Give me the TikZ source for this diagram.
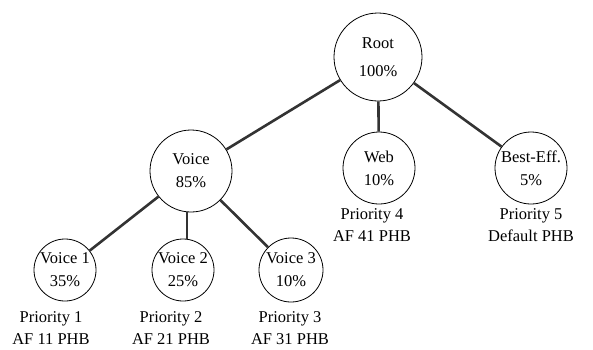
\documentclass[tikz,border=0pt]{standalone}
\usepackage{fontspec}
\setmainfont{Liberation Serif}
\begin{document}
\begin{tikzpicture}[x=1pt,y=-1pt,
  cls/.style={circle,draw=black,line width=0.8pt,inner sep=0pt,align=center,
    font=\fontsize{16.5}{23}\selectfont},
  lbl/.style={align=center,inner sep=0pt,font=\fontsize{16.5}{22}\selectfont},
  edge/.style={draw=black!80,line width=2.6pt}]
\useasboundingbox (0,0) rectangle (593,349);
% class tree
\node[cls,minimum size=88pt,font=\fontsize{16.5}{28}\selectfont] (root) at (378,57) {Root\\100\%};
\node[cls,minimum size=82pt] (voice) at (191,171) {Voice\\85\%};
\node[cls,minimum size=72pt] (web) at (379,168) {Web\\10\%};
\node[cls,minimum size=72pt] (be) at (531,168) {Best-Eff.\\5\%};
\node[cls,minimum size=62pt] (v1) at (65,270) {Voice 1\\35\%};
\node[cls,minimum size=62pt] (v2) at (183,270) {Voice 2\\25\%};
\node[cls,minimum size=64pt] (v3) at (291,270) {Voice 3\\10\%};
% priority / PHB labels
\node[lbl] (l1) at (51,328) {Priority 1\\AF 11 PHB};
\node[lbl] (l2) at (171,328) {Priority 2\\AF 21 PHB};
\node[lbl] (l3) at (290,328) {Priority 3\\AF 31 PHB};
\node[lbl] (l4) at (372,225) {Priority 4\\AF 41 PHB};
\node[lbl] (l5) at (531,225) {Priority 5\\Default PHB};
% links
\draw[edge] (root) -- (voice);
\draw[edge] (root) -- (web);
\draw[edge] (root) -- (be);
\draw[edge] (voice) -- (v1);
\draw[edge] (voice.south -| v2.north) ++(4,0) coordinate (vs) -- (vs |- v2.north);
\draw[edge] (voice) -- (v3);
\end{tikzpicture}
\end{document}
